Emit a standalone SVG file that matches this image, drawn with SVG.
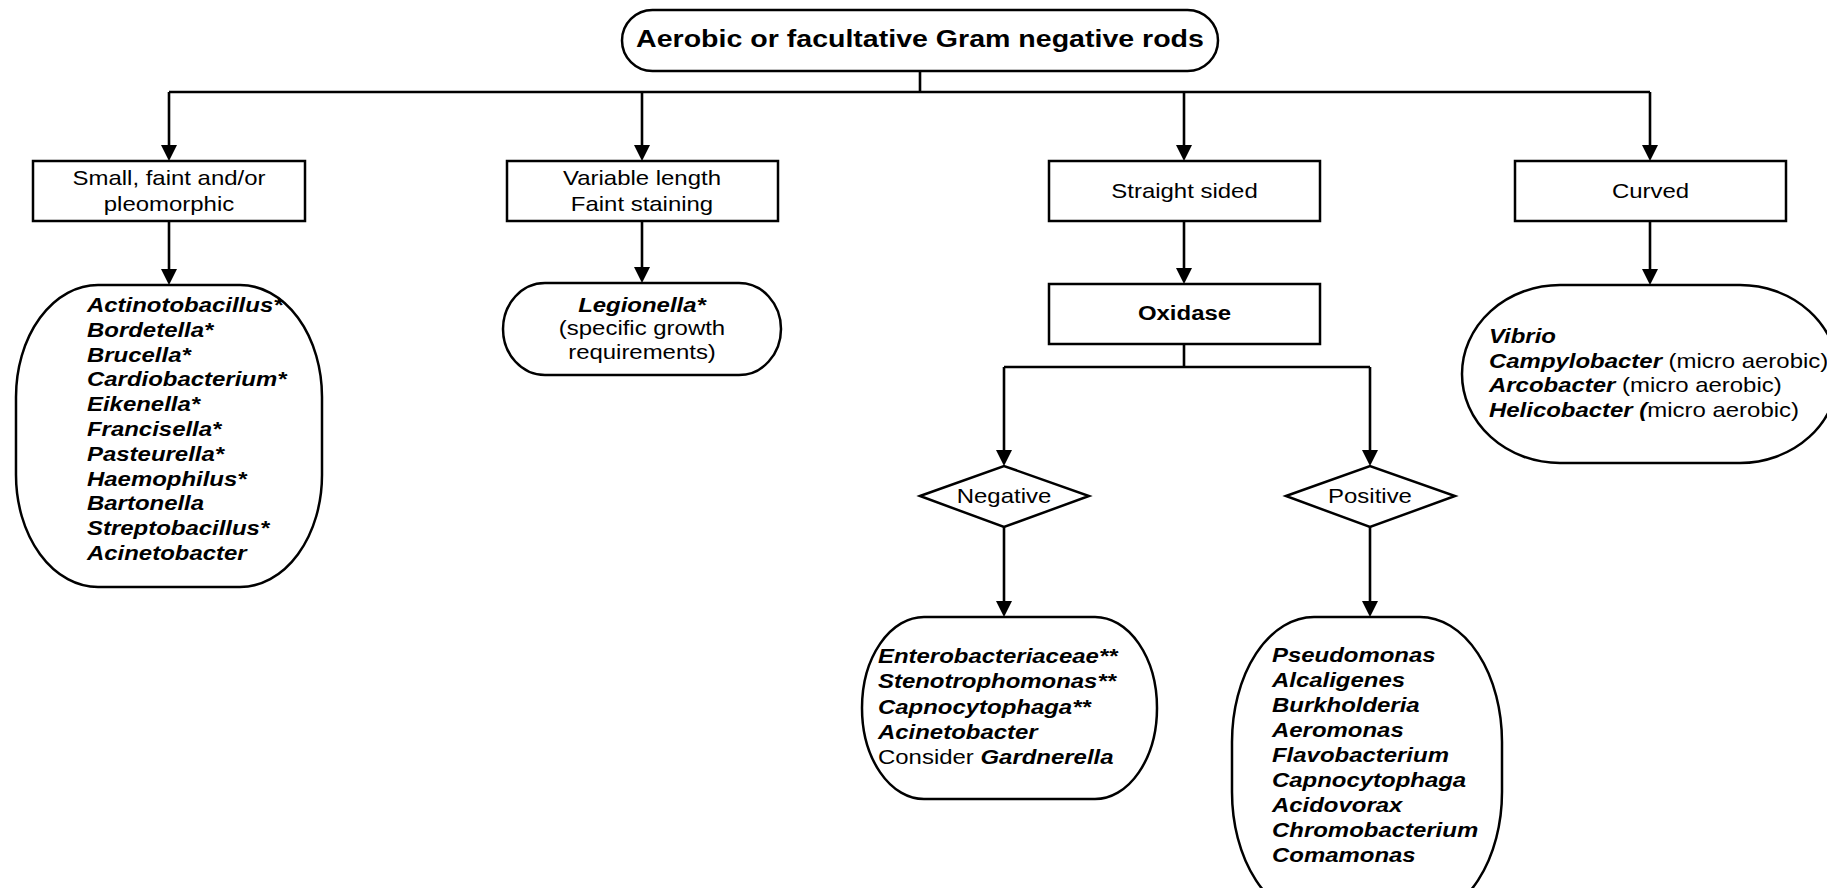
<svg xmlns="http://www.w3.org/2000/svg" width="1827" height="888" viewBox="0 0 1827 888">
<style>
.box{fill:#fff;stroke:#000;stroke-width:2.5}
.ln{fill:none;stroke:#000;stroke-width:2.6}
.arr{fill:none;stroke:#000;stroke-width:2.6;marker-end:url(#ah)}
.t{font-family:"Liberation Sans",Arial,sans-serif;font-size:20.3px;fill:#000}
.c{text-anchor:middle}
.bi{font-weight:bold;font-style:italic}
.b{font-weight:bold}
.ti{font-size:24.2px;font-weight:bold}
</style>
<defs>
<marker id="ah" viewBox="0 0 16 16" refX="8" refY="8" markerWidth="16" markerHeight="16" markerUnits="userSpaceOnUse" orient="auto">
<path d="M0,0 L16,8 L0,16 z" fill="#000"/>
</marker>
</defs>
<rect width="1827" height="888" fill="#fff"/>
<g id="connectors">
<path class="ln" d="M920,71 V92 M169,92 H1650"/>
<path class="arr" d="M169,92 V153"/>
<path class="arr" d="M642,92 V153"/>
<path class="arr" d="M1184,92 V153"/>
<path class="arr" d="M1650,92 V153"/>
<path class="arr" d="M169,221 V277"/>
<path class="arr" d="M642,221 V275"/>
<path class="arr" d="M1184,221 V276"/>
<path class="arr" d="M1650,221 V277"/>
<path class="ln" d="M1184,344 V367 M1004,367 H1370"/>
<path class="arr" d="M1004,367 V458"/>
<path class="arr" d="M1370,367 V458"/>
<path class="arr" d="M1004,527 V609"/>
<path class="arr" d="M1370,527 V609"/>
</g>
<g id="root">
<rect class="box" x="622" y="10" width="596" height="61" rx="30.5"/>
<g transform="translate(920 47) scale(1.18 1)"><text class="t ti c" x="0" y="0">Aerobic or facultative Gram negative rods</text></g>
</g>
<g id="small">
<rect class="box" x="33" y="161" width="272" height="60"/>
<g transform="translate(169 185) scale(1.18 1)"><text class="t c"><tspan x="0" y="0">Small, faint and/or</tspan><tspan x="0" y="26">pleomorphic</tspan></text></g>
</g>
<g id="variable">
<rect class="box" x="507" y="161" width="271" height="60"/>
<g transform="translate(642 185) scale(1.18 1)"><text class="t c"><tspan x="0" y="0">Variable length</tspan><tspan x="0" y="26">Faint staining</tspan></text></g>
</g>
<g id="straight">
<rect class="box" x="1049" y="161" width="271" height="60"/>
<g transform="translate(1184.5 198) scale(1.18 1)"><text class="t c" x="0" y="0">Straight sided</text></g>
</g>
<g id="curved">
<rect class="box" x="1515" y="161" width="271" height="60"/>
<g transform="translate(1650.5 198) scale(1.18 1)"><text class="t c" x="0" y="0">Curved</text></g>
</g>
<g id="list-small">
<rect class="box" x="16" y="285" width="306" height="302" rx="82" ry="112"/>
<g transform="translate(87 312) scale(1.18 1)"><text class="t bi">
<tspan x="0" y="0">Actinotobacillus*</tspan>
<tspan x="0" y="24.8">Bordetella*</tspan>
<tspan x="0" y="49.6">Brucella*</tspan>
<tspan x="0" y="74.4">Cardiobacterium*</tspan>
<tspan x="0" y="99.2">Eikenella*</tspan>
<tspan x="0" y="124">Francisella*</tspan>
<tspan x="0" y="148.8">Pasteurella*</tspan>
<tspan x="0" y="173.6">Haemophilus*</tspan>
<tspan x="0" y="198.4">Bartonella</tspan>
<tspan x="0" y="223.2">Streptobacillus*</tspan>
<tspan x="0" y="248">Acinetobacter</tspan>
</text></g>
</g>
<g id="legionella">
<rect class="box" x="503" y="283" width="278" height="92" rx="42" ry="46"/>
<g transform="translate(642 312) scale(1.18 1)"><text class="t c"><tspan class="bi" x="0" y="0">Legionella*</tspan><tspan x="0" y="23.5">(specific growth</tspan><tspan x="0" y="47">requirements)</tspan></text></g>
</g>
<g id="oxidase">
<rect class="box" x="1049" y="284" width="271" height="60"/>
<g transform="translate(1184.5 320) scale(1.18 1)"><text class="t b c" x="0" y="0">Oxidase</text></g>
</g>
<g id="list-curved">
<rect class="box" x="1462" y="285" width="376" height="178" rx="98" ry="89"/>
<g transform="translate(1489 343) scale(1.18 1)"><text class="t">
<tspan class="bi" x="0" y="0">Vibrio</tspan>
<tspan x="0" y="24.7"><tspan class="bi">Campylobacter</tspan> (micro aerobic)</tspan>
<tspan x="0" y="49.4"><tspan class="bi">Arcobacter</tspan> (micro aerobic)</tspan>
<tspan x="0" y="74.1"><tspan class="bi">Helicobacter (</tspan>micro aerobic)</tspan>
</text></g>
</g>
<g id="negative">
<polygon class="box" points="920,496 1004,466 1089,496 1004,527"/>
<g transform="translate(1004 503) scale(1.18 1)"><text class="t c" x="0" y="0">Negative</text></g>
</g>
<g id="positive">
<polygon class="box" points="1286,496 1370,466 1455,496 1370,527"/>
<g transform="translate(1370 503) scale(1.18 1)"><text class="t c" x="0" y="0">Positive</text></g>
</g>
<g id="list-negative">
<rect class="box" x="862" y="617" width="295" height="182" rx="62" ry="91"/>
<g transform="translate(878 663) scale(1.18 1)"><text class="t">
<tspan class="bi" x="0" y="0">Enterobacteriaceae**</tspan>
<tspan class="bi" x="0" y="25.3">Stenotrophomonas**</tspan>
<tspan class="bi" x="0" y="50.6">Capnocytophaga**</tspan>
<tspan class="bi" x="0" y="75.9">Acinetobacter</tspan>
<tspan x="0" y="101.2">Consider <tspan class="bi">Gardnerella</tspan></tspan>
</text></g>
</g>
<g id="list-positive">
<rect class="box" x="1232" y="617" width="270" height="300" rx="82" ry="125"/>
<g transform="translate(1272 662) scale(1.18 1)"><text class="t bi">
<tspan x="0" y="0">Pseudomonas</tspan>
<tspan x="0" y="25">Alcaligenes</tspan>
<tspan x="0" y="50">Burkholderia</tspan>
<tspan x="0" y="75">Aeromonas</tspan>
<tspan x="0" y="100">Flavobacterium</tspan>
<tspan x="0" y="125">Capnocytophaga</tspan>
<tspan x="0" y="150">Acidovorax</tspan>
<tspan x="0" y="175">Chromobacterium</tspan>
<tspan x="0" y="200">Comamonas</tspan>
</text></g>
</g>
</svg>
